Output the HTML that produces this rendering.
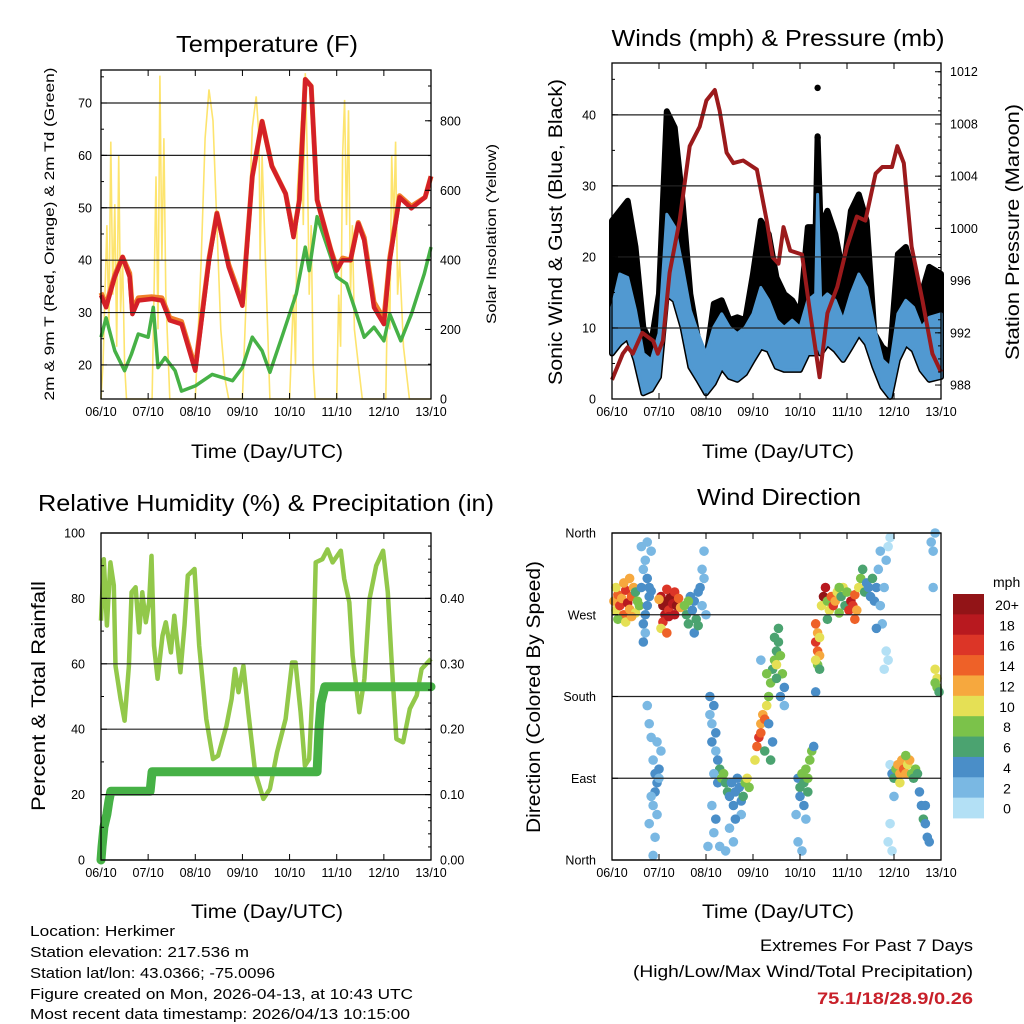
<!DOCTYPE html>
<html><head><meta charset="utf-8"><style>
body{margin:0;background:#fff}
svg{display:block;font-family:"Liberation Sans",sans-serif}
</style></head><body>
<svg id="fig" width="1024" height="1024" viewBox="0 0 1024 1024">
<rect width="1024" height="1024" fill="#fff"/>
<g id="layer"></g>
<text x="267" y="52" font-size="23" text-anchor="middle" textLength="182" lengthAdjust="spacingAndGlyphs">Temperature (F)</text>
<text x="778" y="46" font-size="23" text-anchor="middle" textLength="333" lengthAdjust="spacingAndGlyphs">Winds (mph) &amp; Pressure (mb)</text>
<text x="266" y="511" font-size="23" text-anchor="middle" textLength="456" lengthAdjust="spacingAndGlyphs">Relative Humidity (%) &amp; Precipitation (in)</text>
<text x="779" y="505" font-size="23" text-anchor="middle" textLength="164" lengthAdjust="spacingAndGlyphs">Wind Direction</text>
<text x="267" y="458" font-size="19" text-anchor="middle" textLength="152" lengthAdjust="spacingAndGlyphs">Time (Day/UTC)</text>
<text x="778" y="458" font-size="19" text-anchor="middle" textLength="152" lengthAdjust="spacingAndGlyphs">Time (Day/UTC)</text>
<text x="267" y="918" font-size="19" text-anchor="middle" textLength="152" lengthAdjust="spacingAndGlyphs">Time (Day/UTC)</text>
<text x="778" y="918" font-size="19" text-anchor="middle" textLength="152" lengthAdjust="spacingAndGlyphs">Time (Day/UTC)</text>
<text transform="translate(54,234) rotate(-90)" font-size="14" text-anchor="middle" textLength="333" lengthAdjust="spacingAndGlyphs">2m &amp; 9m T (Red, Orange) &amp; 2m Td (Green)</text>
<text transform="translate(496,234) rotate(-90)" font-size="14" text-anchor="middle" textLength="180" lengthAdjust="spacingAndGlyphs">Solar Insolation (Yellow)</text>
<text transform="translate(562,232) rotate(-90)" font-size="19" text-anchor="middle" textLength="306" lengthAdjust="spacingAndGlyphs">Sonic Wind &amp; Gust (Blue, Black)</text>
<text transform="translate(1019,232) rotate(-90)" font-size="19" text-anchor="middle" textLength="256" lengthAdjust="spacingAndGlyphs">Station Pressure (Maroon)</text>
<text transform="translate(45,696) rotate(-90)" font-size="19" text-anchor="middle" textLength="230" lengthAdjust="spacingAndGlyphs">Percent &amp; Total Rainfall</text>
<text transform="translate(540,697) rotate(-90)" font-size="19" text-anchor="middle" textLength="272" lengthAdjust="spacingAndGlyphs">Direction (Colored By Speed)</text>
<text x="993" y="587" font-size="14">mph</text>
<g font-size="14.5">
<text x="30" y="936" textLength="145" lengthAdjust="spacingAndGlyphs">Location: Herkimer</text>
<text x="30" y="957" textLength="219" lengthAdjust="spacingAndGlyphs">Station elevation: 217.536 m</text>
<text x="30" y="978" textLength="245" lengthAdjust="spacingAndGlyphs">Station lat/lon: 43.0366; -75.0096</text>
<text x="30" y="999" textLength="383" lengthAdjust="spacingAndGlyphs">Figure created on Mon, 2026-04-13, at 10:43 UTC</text>
<text x="30" y="1019" textLength="380" lengthAdjust="spacingAndGlyphs">Most recent data timestamp: 2026/04/13 10:15:00</text>
</g>
<text x="973" y="951" font-size="17" text-anchor="end" textLength="213" lengthAdjust="spacingAndGlyphs">Extremes For Past 7 Days</text>
<text x="973" y="977" font-size="17" text-anchor="end" textLength="340" lengthAdjust="spacingAndGlyphs">(High/Low/Max Wind/Total Precipitation)</text>
<text x="973" y="1004" font-size="17" font-weight="bold" fill="#c8202a" text-anchor="end" textLength="156" lengthAdjust="spacingAndGlyphs">75.1/18/28.9/0.26</text>
</svg>
<script>
// ---------- data ----------
const dayLabels=["06/10","07/10","08/10","09/10","10/10","11/10","12/10","13/10"];
const tempTicks=[20,30,40,50,60,70];
const solarTicks=[0,200,400,600,800];
const windTicks=[0,10,20,30,40];
const presTicks=[988,992,996,1000,1004,1008,1012];
const rhTicks=[0,20,40,60,80,100];
const precTicks=[0,0.1,0.2,0.3,0.4];
const dirTicks=[360,270,180,90,0];
const dirLabels=["North","West","South","East","North"];
const speedBins=["20+","18","16","14","12","10","8","6","4","2","0"];
const tempH=[0,2.6,7,11,14.6,16,19,26,31,35,41,48,55,59,65,72,77,82,87,94,98,101,104,107,110,117,120,123,127,131,134,139,144,147,152,158,165,168];
const tempRed=[33.3,31,36.8,40.6,36.8,29.7,32.3,32.6,32.3,28.5,27.8,18.9,40,48.9,38.7,31.3,56,66.5,57.9,52.7,44.4,51.5,74.5,73.2,51.5,41.9,38,40,40,47,43.8,31,27.8,40,52,49.9,52,56];
const tempOrange=[33.8,31.5,37.2,40.6,37.5,30.5,32.8,33,32.8,29,28.3,19.5,40.3,49,39.2,31.8,56,66.5,58,52.7,44.8,51.5,74.5,73.2,51.5,42,38.6,40.4,40,47.2,44.3,32,28.8,40.5,52.3,50.3,52,56];
const dewH=[0,2.6,7,12,15.4,19,24,26.6,29,32.6,37.7,41,48,56.6,67,72,77,82,86,92.6,99.4,104,106,110,117,120,125,134,139,144,147,152.6,158,164.6,168];
const dewV=[25.3,29,22.7,18.9,22,25.9,25.3,31,19.5,21.4,18.9,15,16,18.2,17,19.5,25.3,22.7,18.6,25.9,33.6,42.5,38,48.3,40.6,36.8,35.5,25.3,27.2,24.6,29.7,24.6,29.7,37.4,42.5];
const solarH=[0,1,3,4,5,6,7,8,9,10,11,12,13,26,27,28,29,30,31,32,33,34,35,48,51,53,55,57,59,61,63,65,72,75,77,79,80.5,81,82,84,86,96,98,99,100,102,103,104,105,106,107,108,109,120,121,122,123,124,125,126,127,128,129,131,133,145,146,147,148,149,150,151,152,154,157,168];
const solarV=[0,100,500,200,740,300,560,150,700,250,400,100,0,0,300,640,200,930,400,750,300,150,0,0,400,750,890,800,500,200,60,0,0,450,780,870,750,400,700,350,0,0,300,100,600,800,500,937,700,300,500,100,0,0,300,150,700,860,500,830,300,500,200,100,0,0,350,200,700,500,740,300,400,150,0,0];
const presH=[0,5.5,8,10.6,15.4,21,23.4,26,29.4,34.5,39.7,44.8,48.2,52.5,55,58.5,62,67,74,79,82,85,87.6,91,97,101,106,110,115,120,125,129.4,134.6,138,143,145.7,149,153,158.5,163.6,168];
const presV=[988.4,990.4,990.9,990.4,992,991.4,990.4,991.4,996.6,1000.6,1006.3,1007.8,1009.8,1010.6,1009,1005.8,1005,1005.2,1004.5,1000.6,997.8,997.3,1000.1,998.3,998,993.7,988.6,993.5,995.5,998.6,1000.9,1000.6,1004.2,1004.7,1004.7,1006.3,1005,998.6,994.5,990.4,989];
const windH=[0,4,8,12,16,20,24,28,32,36,40,44,48,52,56,60,64,68,72,76,80,84,88,92,96,100,104,105,106.5,110,114,118,122,126,130,134,138,142,146,150,154,158,162,168];
const windHi=[12.9,17.6,17.1,12.5,6.4,5.5,9.2,26,24.2,18.6,12.5,9.2,6.4,10.1,12,10.1,9.2,10.1,12,15.7,13.9,11.1,10.1,11.1,10.1,13.9,14.8,28.8,13.9,14.8,13.9,11.1,14.8,17.6,15.7,10.1,5.5,4.5,12,13.9,12.9,10.1,11.5,12];
const windLo=[6.4,7.8,8.7,5.5,0.8,1.3,3.1,14.8,13.9,10.1,4.5,2.7,0.8,2.2,4.5,3.1,2.7,3.6,5.5,7.3,6.9,4.5,4.1,4.1,4.1,6.4,6.4,7.8,6.4,7.8,6.9,5.5,7.3,9.2,7.8,4.5,1.7,0.3,5.5,7.8,6.9,4.1,2.7,3.1];
const gustHi=[25.1,26.5,27.9,21.4,10.1,7.8,14.8,40.5,38.2,27.9,14.8,8.3,5.5,13.4,13.9,11.1,11.5,11.1,17.6,25.1,23.2,17.1,14.8,13.9,12,24.2,24.2,37,24.2,26.5,23.2,17.6,26.5,28.8,25.1,9.2,7.3,6.4,20.4,21.4,17.6,14.8,18.6,17.6];
const gustOutH=[105,105,105,105];
const gustOutV=[43.8,36.8,35,33.2];
const rhH=[0,1.4,3,4.8,6.5,7.4,10,12,14.2,15.6,17.6,19.4,21,22.8,24.5,25.7,27,28.8,31.3,33,35.6,37.3,40.4,42.5,44.2,47.6,50,53.6,57,59.6,63.9,66.5,68.2,70,72.5,75,78.5,82.7,86,89.6,94,97.3,99,101.6,103.8,106,107.6,109.3,112.7,115.3,117.9,122.1,123.8,126.4,128.1,131.5,134.1,136.7,140.1,143.6,146,147.8,150.4,153.8,157.2,160.7,163.2,168];
const rhV=[73.2,92,71.7,91,84,59.4,49.2,42.6,59.4,81.9,83.4,69.6,81.9,72.7,78.8,93,65.5,55.4,68.6,72.7,63.5,74.7,57.4,71.7,87,89,65.5,43.1,30.9,31.9,41.1,49.2,58.4,51.3,59.4,45.2,26.8,18.7,21.7,32.9,43.1,60.4,60.4,45.2,28.8,30.9,51.3,91,92,95,91,94.6,86,78.8,62.5,45.2,55.4,79.8,90,94.6,81.9,62.5,37,36,46.2,50.3,58.4,61.5];
const precH=[0,0.5,1.5,3,4,5,25,26,110,111,112,114,168];
const precV=[0,0.02,0.05,0.07,0.09,0.105,0.105,0.135,0.135,0.2,0.24,0.265,0.265];
const dirPts=[[1,285,12],[2,275,10],[3,292,14],[4,280,16],[5,288,12],[6,270,14],[7,297,16],[8,283,18],[9,276,12],[10,290,14],[11,300,12],[12,272,10],[13,285,8],[3,265,8],[7,262,10],[10,268,12],[12,295,6],[2,300,10],[6,305,12],[9,310,12],[14,280,8],
[15,300,4],[16,320,2],[17,330,2],[18,310,4],[19,290,4],[16,260,4],[17,250,2],[18,280,4],[20,340,2],[15,345,2],[19,300,4],[17,270,4],[16,240,4],[20,296,4],[18,350,2],
[25,290,18],[26,280,20],[27,270,18],[28,285,20],[29,275,16],[30,290,20],[31,282,18],[32,295,16],[33,280,20],[34,288,14],[26,262,16],[29,268,18],[32,270,18],[35,278,12],[24,287,12],[28,298,16],[25,255,10],[28,250,14],
[37,280,8],[38,270,6],[39,260,6],[40,290,4],[41,275,4],[42,285,4],[43,265,6],[44,295,4],[45,300,4],[46,280,2],[47,310,2],[46,320,2],[47,340,2],[42,250,4],[44,258,6],[48,270,2],[39,285,8],
[18,170,2],[19,150,2],[20,135,2],[21,110,2],[22,95,4],[23,85,4],[22,75,4],[21,60,2],[23,50,2],[24,100,4],[25,120,2],[20,70,2],[19,40,2],[22,25,2],[24,90,2],[23,130,2],[21,5,2],
[50,180,4],[50,160,2],[51,150,2],[51,130,4],[52,170,4],[53,140,4],[53,120,2],[54,110,4],[55,100,6],[52,95,2],[54,85,4],[56,90,8],[57,95,8],[58,85,6],[59,75,6],[60,70,4],[61,85,4],[62,60,4],[63,75,4],[64,90,4],[65,80,4],[66,65,4],[67,70,6],[68,85,8],[69,90,10],[70,80,8],[66,50,2],[63,45,4],[60,35,2],[58,10,2],[52,30,2],[55,15,2],[49,15,2],[62,20,2],[51,60,2],[53,45,4],
[73,110,10],[74,125,14],[75,135,16],[76,150,12],[77,160,12],[76,140,14],[78,155,14],[78,120,6],[79,170,10],[80,180,8],[81,195,8],[82,210,6],[83,220,8],[84,230,6],[85,240,6],[86,225,8],[87,205,8],[84,200,6],[86,180,4],[88,190,4],[83,245,6],[85,255,6],[80,150,4],[82,130,4],[81,110,6],[88,170,2],[76,220,2],[84,215,10],[79,205,8],
[95,90,4],[96,80,6],[97,95,8],[98,85,6],[99,100,8],[100,90,8],[101,110,8],[96,70,4],[98,60,4],[100,75,6],[102,120,8],[94,50,2],[95,20,2],[97,10,2],[103,125,4],[99,45,2],[104,185,4],
[104,260,14],[105,250,12],[104,240,16],[105,230,14],[106,225,12],[105,215,8],[106,210,6],[104,220,10],[106,245,10],
[107,280,10],[108,290,20],[109,300,18],[110,285,8],[111,275,10],[112,290,14],[113,280,16],[114,285,12],[115,295,10],[116,272,8],[117,290,6],[118,300,10],[119,280,6],[120,295,8],[121,275,16],[122,285,18],[123,280,16],[124,292,14],[125,275,12],[126,300,10],[127,310,8],[128,320,6],[129,295,6],[124,265,14],[110,265,6],[116,300,8],[130,305,4],
[131,300,4],[132,290,4],[133,310,6],[134,285,4],[135,300,4],[136,320,2],[137,280,2],[138,260,2],[139,300,2],[140,330,2],[141,345,0],[142,355,0],[140,230,0],[139,210,0],[135,255,4],[141,220,0],[137,340,2],
[142,105,0],[143,95,4],[144,90,6],[145,100,8],[146,105,12],[147,95,12],[148,110,12],[149,100,14],[150,95,12],[151,105,10],[152,110,12],[153,95,8],[154,90,6],[155,100,8],[156,95,6],[157,75,4],[158,60,4],[159,45,6],[160,40,4],[161,25,4],[162,20,4],[160,60,4],[142,40,0],[141,20,0],[143,10,0],[144,70,2],[150,115,8],[147,85,10],
[165,210,10],[166,200,10],[166,190,8],[167,185,6],[165,195,8],[163,350,2],[164,340,2],[164,300,2],[165,360,2]];
const binColors=["#921417","#b8191f","#dc3527","#ee6128","#f6a83e","#e5e055","#7bc24a","#4ba370","#4a8ec8","#7ab8e3","#b3e0f5"];

// ---------- helpers ----------
const NS="http://www.w3.org/2000/svg";
const layer=document.getElementById('layer');
function mk(tag,attrs,parent){const e=document.createElementNS(NS,tag);for(const k in attrs)e.setAttribute(k,attrs[k]);(parent||layer).appendChild(e);return e;}
function lin(d0,d1,r0,r1){return v=>r0+(v-d0)/(d1-d0)*(r1-r0);}
function pathD(xs,ys,fx,fy){return xs.map((t,i)=>(i?'L':'M')+fx(t).toFixed(1)+','+fy(ys[i]).toFixed(1)).join('');}

function frame(b,name,gridVals,fy,leftTicks,leftLabels,lx,rightTicks,fy2,rightLabels,rx,minorL,minorR){
  const g=mk('g',{});
  
  
  gridVals.forEach(v=>{const y=fy(v);const l=mk('line',{x1:b.x0,x2:b.x1,y1:y,y2:y,stroke:'#222','stroke-width':1.2},g);
    });
  const fx=lin(0,168,b.x0,b.x1);
  dayLabels.forEach((d,i)=>{const x=fx(i*24);
    mk('line',{x1:x,x2:x,y1:b.y0,y2:b.y0+6,stroke:'#000','stroke-width':1},g);
    mk('line',{x1:x,x2:x,y1:b.y1,y2:b.y1-6,stroke:'#000','stroke-width':1},g);
    const t=mk('text',{x:x,y:b.y1+17,'font-size':12.5,'text-anchor':'middle'},g);t.textContent=d;
    });
  leftTicks.forEach((v,i)=>{const y=fy(v);mk('line',{x1:b.x0,x2:b.x0+6,y1:y,y2:y,stroke:'#000'},g);
    const t=mk('text',{x:lx,y:y+4.5,'font-size':12.5,'text-anchor':'end'},g);t.textContent=leftLabels[i];
    });
  (minorL||[]).forEach(v=>{const y=fy(v);mk('line',{x1:b.x0,x2:b.x0+3,y1:y,y2:y,stroke:'#000'},g);});
  if(rightTicks){rightTicks.forEach((v,i)=>{const y=fy2(v);mk('line',{x1:b.x1,x2:b.x1-6,y1:y,y2:y,stroke:'#000'},g);
    const t=mk('text',{x:rx,y:y+4.5,'font-size':12.5,'text-anchor':'start'},g);t.textContent=rightLabels[i];
    });
    (minorR||[]).forEach(v=>{const y=fy2(v);mk('line',{x1:b.x1,x2:b.x1-3,y1:y,y2:y,stroke:'#000'},g);});}
  mk('rect',{x:b.x0,y:b.y0,width:b.x1-b.x0,height:b.y1-b.y0,fill:'none',stroke:'#000','stroke-width':1.3},g);
  return fx;
}
function range(a,b,s){const r=[];for(let v=a;v<=b+1e-9;v+=s)r.push(+v.toFixed(4));return r;}

// ---------- temperature panel ----------
(function(){
  const b={x0:101,x1:431,y0:70,y1:399};
  const fy=lin(13.5,76.3,b.y1,b.y0), fs=lin(0,946,b.y1,b.y0), fx=lin(0,168,b.x0,b.x1);
  const s=mk('path',{d:pathD(solarH,solarV,fx,fs),fill:'none',stroke:'#fde46e','stroke-width':1.6});
  
  const g=mk('path',{d:pathD(dewH,dewV,fx,fy),fill:'none',stroke:'#46b146','stroke-width':3.5,'stroke-linejoin':'round'});
  
  const o=mk('path',{d:pathD(tempH,tempOrange,fx,fy),fill:'none',stroke:'#f0802a','stroke-width':5,'stroke-linejoin':'round'});
  
  const r=mk('path',{d:pathD(tempH,tempRed,fx,fy),fill:'none',stroke:'#d42027','stroke-width':4.5,'stroke-linejoin':'round'});
  
  frame(b,'temperature',tempTicks,fy,tempTicks,tempTicks.map(String),92,solarTicks,fs,solarTicks.map(String),440,range(15,75,5),range(100,900,100));
})();

// ---------- winds panel ----------
(function(){
  const b={x0:612,x1:941,y0:63,y1:399};
  const fy=lin(0,47.3,b.y1,b.y0), fp=lin(986.93,1012.67,b.y1,b.y0), fx=lin(0,168,b.x0,b.x1);
  const gd=pathD(windH,gustHi,fx,fy)+windH.slice().reverse().map((t,i)=>'L'+fx(t).toFixed(1)+','+fy(windLo[windH.length-1-i]).toFixed(1)).join('')+'Z';
  const gp=mk('path',{d:gd,fill:'#000',stroke:'#000','stroke-width':6,'stroke-linejoin':'round'});
  
  gustOutH.forEach((t,i)=>{const c=mk('circle',{cx:fx(t),cy:fy(gustOutV[i]),r:3.2,fill:'#000'});
    });
  const wd=pathD(windH,windHi,fx,fy)+windH.slice().reverse().map((t,i)=>'L'+fx(t).toFixed(1)+','+fy(windLo[windH.length-1-i]).toFixed(1)).join('')+'Z';
  const wp=mk('path',{d:wd,fill:'#5199d1',stroke:'#5199d1','stroke-width':3,'stroke-linejoin':'round'});
  
  const p=mk('path',{d:pathD(presH,presV,fx,fp),fill:'none',stroke:'#9b1a1c','stroke-width':4,'stroke-linejoin':'round'});
  
  frame(b,'winds',windTicks.slice(1),fy,windTicks,windTicks.map(String),596,presTicks,fp,presTicks.map(String),950,range(5,45,5),range(988,1012,1));
})();

// ---------- humidity panel ----------
(function(){
  const b={x0:101,x1:431,y0:533,y1:860};
  const fy=lin(0,100,b.y1,b.y0), fp=lin(0,0.5,b.y1,b.y0), fx=lin(0,168,b.x0,b.x1);
  const rh=mk('path',{d:pathD(rhH,rhV,fx,fy),fill:'none',stroke:'#92c84a','stroke-width':4.5,'stroke-linejoin':'round'});
  
  const pr=mk('path',{d:pathD(precH,precV,fx,fp),fill:'none',stroke:'#46b146','stroke-width':9,'stroke-linejoin':'round','stroke-linecap':'round'});
  
  frame(b,'humidity',rhTicks,fy,rhTicks,rhTicks.map(String),85,precTicks,fp,precTicks.map(v=>v.toFixed(2)),440,range(10,90,20),range(0.02,0.48,0.02));
})();

// ---------- wind direction panel ----------
(function(){
  const b={x0:612,x1:941,y0:533,y1:860};
  const fy=lin(0,360,b.y1,b.y0), fx=lin(0,168,b.x0,b.x1);
  const fb=s=>Math.max(0,10-Math.min(10,Math.floor(s/2)));
  dirPts.forEach(p=>{const c=mk('circle',{cx:fx(p[0]),cy:fy(p[1]),r:4.8,fill:binColors[fb(p[2])]});
    });
  frame(b,'direction',dirTicks,fy,dirTicks,dirLabels,596,null);
  const cb=mk('g',{});
  
  const h=224/speedBins.length;
  speedBins.forEach((lab,i)=>{const y=594+i*h;
    const r=mk('rect',{x:953,y:y,width:31,height:h+0.4,fill:binColors[i]},cb);
    
    const t=mk('text',{x:1007,y:y+16,'font-size':14,'text-anchor':'middle'},cb);t.textContent=lab;
    });
})();
</script>
</body></html>
